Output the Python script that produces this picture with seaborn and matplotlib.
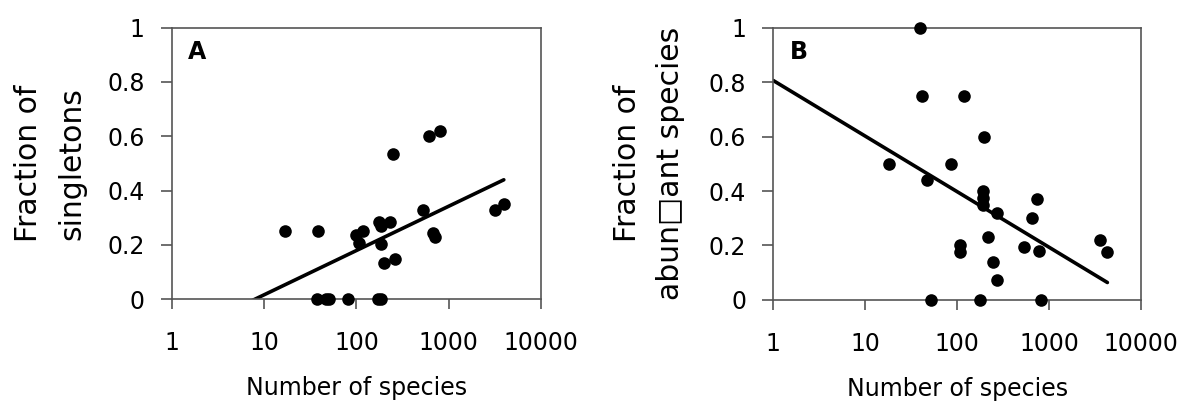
import matplotlib
matplotlib.use('Agg')
import matplotlib.pyplot as plt
from matplotlib.ticker import FixedLocator, FuncFormatter, NullLocator
import numpy as np
import seaborn as sns

# values
a_species = [17, 38, 37, 47, 51, 81, 172, 186, 99, 117, 106, 175, 187,
             230, 185, 201, 265, 250, 525, 608, 795, 678, 719, 3210, 3950]
a_singletons = [0.25, 0.25, 0, 0, 0, 0, 0, 0, 0.235, 0.25, 0.207, 0.284,
                0.268, 0.284, 0.202, 0.135, 0.15, 0.533, 0.327, 0.60, 0.619,
                0.244, 0.229, 0.327, 0.352]

b_species = [39, 41, 117, 195, 18, 85, 47, 189, 189, 189, 270, 738, 645,
             216, 108, 108, 537, 776, 246, 270, 52, 178, 817, 3520, 4280]
b_abundant = [1.0, 0.75, 0.75, 0.6, 0.5, 0.5, 0.44, 0.40, 0.375, 0.35, 0.32,
              0.37, 0.30, 0.233, 0.2, 0.175, 0.193, 0.181, 0.14, 0.073, 0, 0,
              0, 0.222, 0.175]

x_ticks = [1, 10, 100, 1000, 10000]
y_ticks = [0, 0.2, 0.4, 0.6, 0.8, 1]
x_label = 'Number of species'
a_ylabel = 'Fraction of\nsingletons'
b_ylabel = 'Fraction of\nabun\u25a1ant species'

sns.set_theme(style='white')
plt.rcParams['font.family'] = ['DejaVu Sans']
plt.rcParams['text.color'] = 'black'
plt.rcParams['axes.labelcolor'] = 'black'
plt.rcParams['xtick.labelcolor'] = 'black'
plt.rcParams['ytick.labelcolor'] = 'black'

spine_col = '#555555'
fig = plt.figure(figsize=(11.86, 4.01), dpi=100)
ax_a = fig.add_axes([0.1448, 0.2536, 0.3114, 0.6778])
ax_b = fig.add_axes([0.6520, 0.2520, 0.3103, 0.6790])


def draw_panel(ax, xs, ys, ylabel, letter, ypad):
    # log fit, drawn from x=1 to the largest x
    coef = np.polyfit(np.log10(xs), ys, 1)
    line_x = np.logspace(0, np.log10(max(xs)), 200)
    line_y = np.polyval(coef, np.log10(line_x))
    sns.lineplot(x=line_x, y=line_y, ax=ax, color='black', lw=2.6)
    sns.scatterplot(x=xs, y=ys, ax=ax, color='black', s=82, linewidth=0,
                    clip_on=False, zorder=3)
    ax.set_xscale('log')
    ax.set_xlim(1, 10000)
    ax.set_ylim(0, 1)
    ax.xaxis.set_major_locator(FixedLocator(x_ticks))
    ax.xaxis.set_minor_locator(NullLocator())
    ax.xaxis.set_major_formatter(FuncFormatter(lambda v, p: '%d' % v))
    ax.yaxis.set_major_locator(FixedLocator(y_ticks))
    ax.yaxis.set_major_formatter(FuncFormatter(lambda v, p: '%g' % v))
    ax.tick_params(axis='x', which='major', direction='out', length=7,
                   width=1.2, color=spine_col, pad=16, labelsize=17,
                   bottom=True)
    ax.tick_params(axis='y', which='major', direction='out', length=8,
                   width=1.2, color=spine_col, pad=11.5, labelsize=17,
                   left=True)
    for sp in ax.spines.values():
        sp.set_color(spine_col)
        sp.set_linewidth(1.2)
        sp.set_visible(True)
    ax.set_xlabel(x_label, fontsize=17, labelpad=15)
    ax.set_ylabel(ylabel, fontsize=21.5, labelpad=ypad, linespacing=1.62)
    ax.text(0.044, 0.91, letter, transform=ax.transAxes, ha='left',
            va='center', fontsize=17, fontweight='bold')
    ax.grid(False)


draw_panel(ax_a, a_species, a_singletons, a_ylabel, 'A', 15)
draw_panel(ax_b, b_species, b_abundant, b_ylabel, 'B', 17)

plt.savefig('out.png', dpi=100)
